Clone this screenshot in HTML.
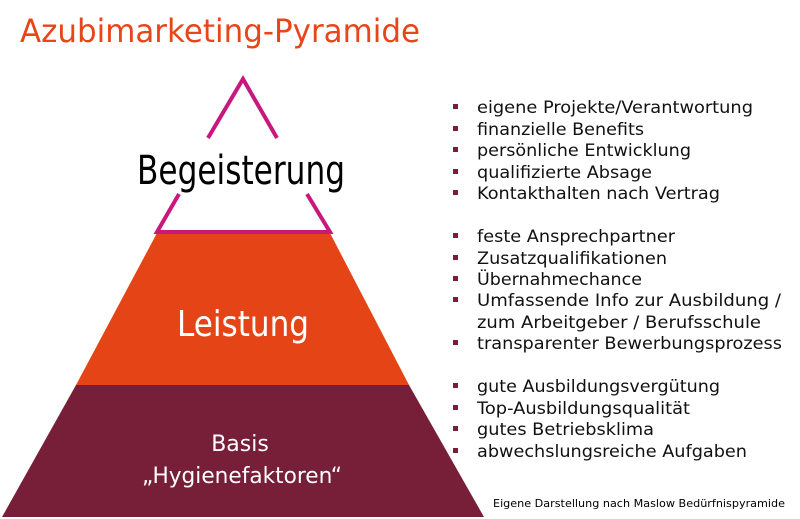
<!DOCTYPE html>
<html><head><meta charset="utf-8"><style>
html,body{margin:0;padding:0;background:#fff;}
svg{display:block;}
text{font-family:"DejaVu Sans","Liberation Sans",sans-serif;}
</style></head><body>
<svg width="800" height="519" viewBox="0 0 800 519" xmlns="http://www.w3.org/2000/svg">
<text x="20" y="42" font-size="32" fill="#e8461a" textLength="400" lengthAdjust="spacingAndGlyphs">Azubimarketing-Pyramide</text>
<polygon points="2,517 484,517 409,385 76,385" fill="#771e38"/>
<polygon points="76,385 409,385 330,233 157,233" fill="#e54516"/>
<polyline points="208,138 243,79 277,138" fill="none" stroke="#c8187e" stroke-width="4"/>
<polyline points="179,194 157,232 330,232 307,194" fill="none" stroke="#c8187e" stroke-width="4"/>
<text x="137" y="184" font-size="40" fill="#000" textLength="208" lengthAdjust="spacingAndGlyphs">Begeisterung</text>
<text x="177" y="336" font-size="36" fill="#fff" textLength="132" lengthAdjust="spacingAndGlyphs">Leistung</text>
<text x="240" y="451" font-size="22" fill="#fff" text-anchor="middle">Basis</text>
<text x="142" y="483" font-size="22" fill="#fff" textLength="200" lengthAdjust="spacingAndGlyphs">„Hygienefaktoren“</text>
<g fill="#771e38">
<rect x="453" y="104" width="5" height="5"/><rect x="453" y="126" width="5" height="5"/><rect x="453" y="147" width="5" height="5"/><rect x="453" y="169" width="5" height="5"/><rect x="453" y="190" width="5" height="5"/>
<rect x="453" y="233" width="5" height="5"/><rect x="453" y="255" width="5" height="5"/><rect x="453" y="276" width="5" height="5"/><rect x="453" y="297" width="5" height="5"/><rect x="453" y="340" width="5" height="5"/>
<rect x="453" y="383" width="5" height="5"/><rect x="453" y="405" width="5" height="5"/><rect x="453" y="426" width="5" height="5"/><rect x="453" y="448" width="5" height="5"/>
</g>
<g font-size="17" fill="#111" lengthAdjust="spacingAndGlyphs">
<text x="477" y="113" textLength="276" lengthAdjust="spacingAndGlyphs">eigene Projekte/Verantwortung</text>
<text x="477" y="135" textLength="167" lengthAdjust="spacingAndGlyphs">finanzielle Benefits</text>
<text x="477" y="156" textLength="214" lengthAdjust="spacingAndGlyphs">persönliche Entwicklung</text>
<text x="477" y="178" textLength="175" lengthAdjust="spacingAndGlyphs">qualifizierte Absage</text>
<text x="477" y="199" textLength="243" lengthAdjust="spacingAndGlyphs">Kontakthalten nach Vertrag</text>
<text x="477" y="242" textLength="198" lengthAdjust="spacingAndGlyphs">feste Ansprechpartner</text>
<text x="477" y="264" textLength="190" lengthAdjust="spacingAndGlyphs">Zusatzqualifikationen</text>
<text x="477" y="285" textLength="165" lengthAdjust="spacingAndGlyphs">Übernahmechance</text>
<text x="477" y="306" textLength="304" lengthAdjust="spacingAndGlyphs">Umfassende Info zur Ausbildung /</text>
<text x="477" y="328" textLength="284" lengthAdjust="spacingAndGlyphs">zum Arbeitgeber / Berufsschule</text>
<text x="477" y="349" textLength="305" lengthAdjust="spacingAndGlyphs">transparenter Bewerbungsprozess</text>
<text x="477" y="392" textLength="243" lengthAdjust="spacingAndGlyphs">gute Ausbildungsvergütung</text>
<text x="477" y="414" textLength="213" lengthAdjust="spacingAndGlyphs">Top-Ausbildungsqualität</text>
<text x="477" y="435" textLength="177" lengthAdjust="spacingAndGlyphs">gutes Betriebsklima</text>
<text x="477" y="457" textLength="270" lengthAdjust="spacingAndGlyphs">abwechslungsreiche Aufgaben</text>
</g>
<text x="493" y="507" font-size="11" fill="#000" textLength="292" lengthAdjust="spacingAndGlyphs">Eigene Darstellung nach Maslow Bedürfnispyramide</text>
</svg>
</body></html>
